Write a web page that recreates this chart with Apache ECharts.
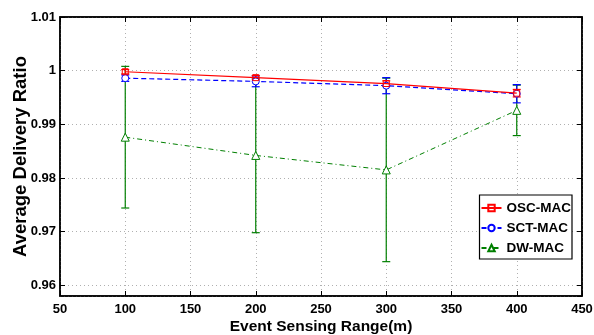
<!DOCTYPE html>
<html><head><meta charset="utf-8">
<script src="https://cdn.jsdelivr.net/npm/echarts@6/dist/echarts.min.js"></script>
<style>html,body{margin:0;padding:0;background:#fff}#c{width:594px;height:335px}</style>
</head><body><div id="c"></div>
<script>
var xValues = [100, 200, 300, 400];
var oscMean = [0.9998, 0.9987, 0.9976, 0.9958];
var oscErr  = [0.0004, 0.0004, 0.0005, 0.0007];
var sctMean = [0.9986, 0.9980, 0.9972, 0.9957];
var sctErr  = [0.0006, 0.0010, 0.0015, 0.0017];
var dwMean  = [0.9876, 0.9842, 0.9815, 0.9926];
var dwErr   = [0.0132, 0.0144, 0.0171, 0.0047];
var seriesNames = ['OSC-MAC', 'SCT-MAC', 'DW-MAC'];
var colors = ['#ff0000', '#0000ff', '#007f00'];

function pairs(m){ return xValues.map(function(x,i){return [x, m[i]];}); }
function errData(m,e){ return xValues.map(function(x,i){return [x, m[i]-e[i], m[i]+e[i]];}); }

function errSeries(m,e,color,name){
  return {
    type:'custom', name:name, data:errData(m,e), z:2, silent:true,
    renderItem:function(params, api){
      var x = api.value(0);
      var lo = api.coord([x, api.value(1)]);
      var hi = api.coord([x, api.value(2)]);
      var w = 4;
      var st = {stroke:color, lineWidth:1.2};
      return {type:'group', children:[
        {type:'line', shape:{x1:lo[0],y1:lo[1],x2:hi[0],y2:hi[1]}, style:st},
        {type:'line', shape:{x1:lo[0]-w,y1:lo[1],x2:lo[0]+w,y2:lo[1]}, style:st},
        {type:'line', shape:{x1:hi[0]-w,y1:hi[1],x2:hi[0]+w,y2:hi[1]}, style:st}
      ]};
    }
  };
}

var font = 'Liberation Sans, Arial, sans-serif';
var chart = echarts.init(document.getElementById('c'));
var gridLine = {show:true, lineStyle:{color:'#b0b0b0', type:[1,3], width:1}};
function yFmt(v){
  var k = Math.round(v*100);
  if (Math.abs(v*100 - k) > 1e-6) return '';
  return k === 100 ? '1' : (k/100).toFixed(2);
}
chart.setOption({
  animation:false,
  backgroundColor:'#fff',
  grid:{left:60, top:17, right:12, bottom:39, containLabel:false, outerBoundsMode:'none',
    show:true, borderColor:'#000', borderWidth:1.5, backgroundColor:'#fff'},
  xAxis:[{
    type:'value', min:50, max:450, interval:50,
    name:'Event Sensing Range(m)', nameLocation:'middle', nameGap:23, nameMoveOverlap:false,
    nameTextStyle:{fontFamily:font, fontWeight:'bold', fontSize:15.5, color:'#000'},
    axisLine:{show:true, onZero:false, lineStyle:{color:'#000', width:1.5}},
    axisTick:{show:true, inside:true, length:5, lineStyle:{color:'#000'}},
    axisLabel:{fontFamily:font, fontWeight:'bold', fontSize:13, color:'#000', margin:7, showMaxLabel:true, showMinLabel:true},
    splitLine:gridLine
  },{
    type:'value', min:50, max:450, interval:50, position:'top',
    axisLine:{show:true, lineStyle:{color:'#000', width:1.5}},
    axisTick:{show:true, inside:true, length:5, lineStyle:{color:'#000'}},
    axisLabel:{show:false}, splitLine:{show:false}
  }],
  yAxis:[{
    type:'value', min:0.958, max:1.01, splitNumber:5,
    name:'Average Delivery Ratio', nameLocation:'middle', nameGap:30, nameMoveOverlap:false,
    nameTextStyle:{fontFamily:font, fontWeight:'bold', fontSize:18.5, color:'#000'},
    axisLine:{show:true, onZero:false, lineStyle:{color:'#000', width:1.5}},
    axisTick:{show:true, inside:true, length:5, lineStyle:{color:'#000'}},
    axisLabel:{fontFamily:font, fontWeight:'bold', fontSize:13, color:'#000', margin:4,
      showMinLabel:false, formatter:yFmt},
    splitLine:gridLine
  },{
    type:'value', min:0.958, max:1.01, splitNumber:5, position:'right',
    axisLine:{show:true, lineStyle:{color:'#000', width:1.5}},
    axisTick:{show:true, inside:true, length:5, lineStyle:{color:'#000'}},
    axisLabel:{show:false}, splitLine:{show:false}
  }],
  legend:{
    data:seriesNames, orient:'vertical', right:22, top:195,
    backgroundColor:'#fff', borderColor:'#000', borderWidth:1.2,
    padding:[6,1,4,1], itemGap:6, itemWidth:20, itemHeight:8,
    textStyle:{fontFamily:font, fontWeight:'bold', fontSize:13.5, color:'#000'}
  },
  series:[
    errSeries(dwMean, dwErr, colors[2], 'dwErr'),
    errSeries(sctMean, sctErr, colors[1], 'sctErr'),
    errSeries(oscMean, oscErr, colors[0], 'oscErr'),
    {type:'line', name:seriesNames[2], data:pairs(dwMean), z:3,
      lineStyle:{color:colors[2], width:1, type:[5,3,1,3]},
      itemStyle:{color:'#fff', borderColor:colors[2], borderWidth:1},
      symbol:'triangle', symbolSize:8},
    {type:'line', name:seriesNames[1], data:pairs(sctMean), z:4,
      lineStyle:{color:colors[1], width:1.2, type:[5,3]},
      itemStyle:{color:'#fff', borderColor:colors[1], borderWidth:1},
      symbol:'circle', symbolSize:7},
    {type:'line', name:seriesNames[0], data:pairs(oscMean), z:5,
      lineStyle:{color:colors[0], width:1.2, type:'solid'},
      itemStyle:{color:'transparent', borderColor:colors[0], borderWidth:1},
      symbol:'rect', symbolSize:6}
  ]
});
</script></body></html>
